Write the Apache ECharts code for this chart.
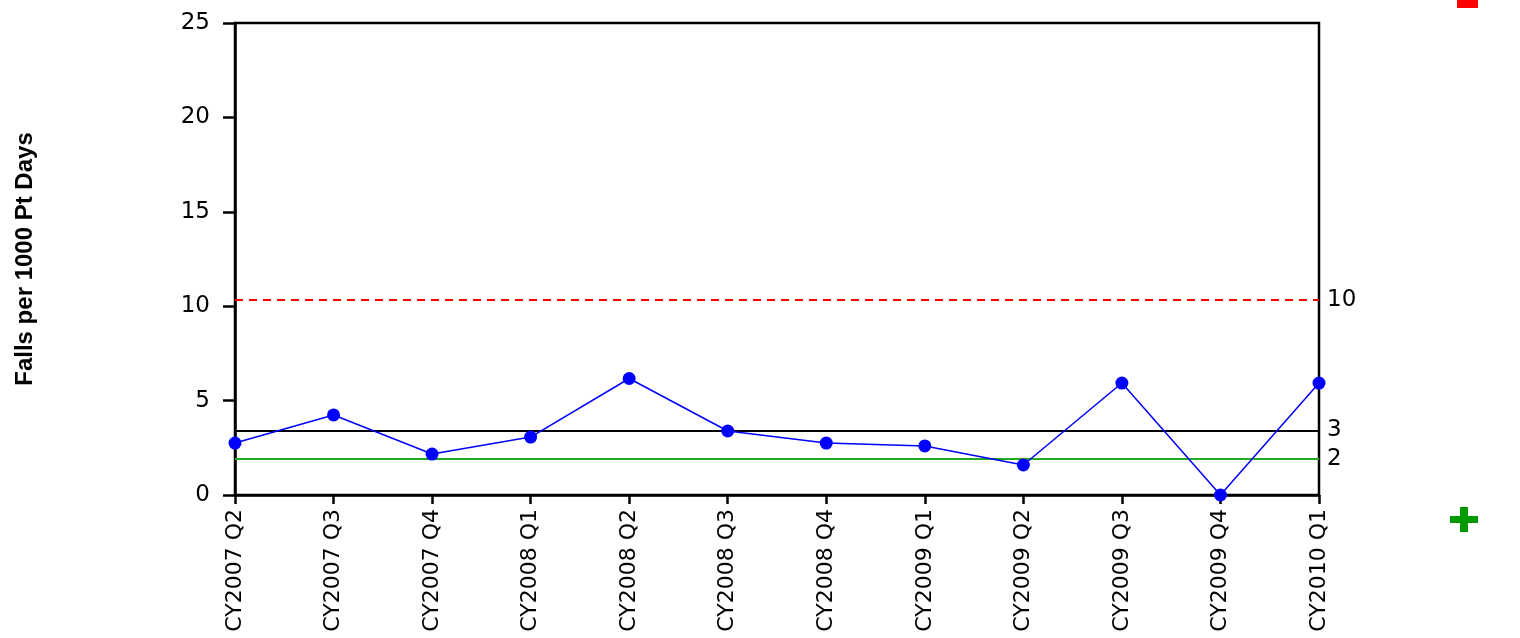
<!DOCTYPE html>
<html>
<head>
<meta charset="utf-8">
<script src="https://cdn.jsdelivr.net/npm/echarts@6/dist/echarts.min.js"></script>
<style>html,body{margin:0;padding:0;background:#fff}#c{width:1520px;height:638px}</style>
</head>
<body>
<div id="c"></div>
<script>
var categories = ['CY2007 Q2','CY2007 Q3','CY2007 Q4','CY2008 Q1','CY2008 Q2','CY2008 Q3','CY2008 Q4','CY2009 Q1','CY2009 Q2','CY2009 Q3','CY2009 Q4','CY2010 Q1'];
var falls = [2.75, 4.24, 2.17, 3.07, 6.17, 3.39, 2.75, 2.6, 1.59, 5.93, 0, 5.93];
var upperLimit = 10.33, upperLabel = '10';
var meanLine = 3.42, meanLabel = '3';
var targetLine = 1.92, targetLabel = '2';
var yTicks = [0, 5, 10, 15, 20, 25];

var font = 'DejaVu Sans';
var chart = echarts.init(document.getElementById('c'));
function ml(val, label, color, type, width) {
  return {
    yAxis: val,
    lineStyle: {color: color, type: type, width: width},
    label: {show: true, position: 'end', formatter: label, color: '#000', fontFamily: font, fontSize: 23, distance: 8}
  };
}
chart.setOption({
  animation: false,
  grid: {left: 235, right: 201, top: 23, bottom: 143, show: true, borderColor: '#000', borderWidth: 2.5, backgroundColor: 'transparent'},
  xAxis: {
    type: 'category', data: categories, boundaryGap: false,
    axisLine: {lineStyle: {color: '#000', width: 2.5}},
    axisTick: {show: true, length: 9, alignWithLabel: true, lineStyle: {color: '#000', width: 2.5}},
    axisLabel: {rotate: 90, margin: 14, color: '#000', fontFamily: font, fontSize: 22, interval: 0},
    splitLine: {show: false}
  },
  yAxis: {
    type: 'value', min: yTicks[0], max: yTicks[yTicks.length-1], interval: 5,
    name: 'Falls per 1000 Pt Days', nameLocation: 'middle', nameGap: 198,
    nameTextStyle: {fontFamily: 'Liberation Sans', fontWeight: 'bold', fontSize: 24, color: '#000'},
    axisLine: {show: true, lineStyle: {color: '#000', width: 2.5}},
    axisTick: {show: true, length: 12, lineStyle: {color: '#000', width: 2.5}},
    axisLabel: {margin: 25, color: '#000', fontFamily: font, fontSize: 23},
    splitLine: {show: false}
  },
  series: [{
    type: 'line', data: falls, symbol: 'circle', symbolSize: 13,
    lineStyle: {color: '#0000ff', width: 1.5},
    itemStyle: {color: '#0000ff'},
    z: 5,
    markLine: {
      silent: true, symbol: ['none','none'], animation: false,
      data: [
        ml(upperLimit, upperLabel, '#ff0000', [8, 6], 2),
        ml(meanLine, meanLabel, '#000000', 'solid', 2),
        ml(targetLine, targetLabel, '#22aa22', 'solid', 2)
      ]
    }
  }],
  graphic: [
    {type: 'rect', shape: {x: 1457, y: 0, width: 21, height: 8}, style: {fill: '#ff0000'}},
    {type: 'rect', shape: {x: 1450, y: 516, width: 28, height: 7}, style: {fill: '#009900'}},
    {type: 'rect', shape: {x: 1460, y: 507, width: 8, height: 25}, style: {fill: '#009900'}}
  ]
});
</script>
</body>
</html>
